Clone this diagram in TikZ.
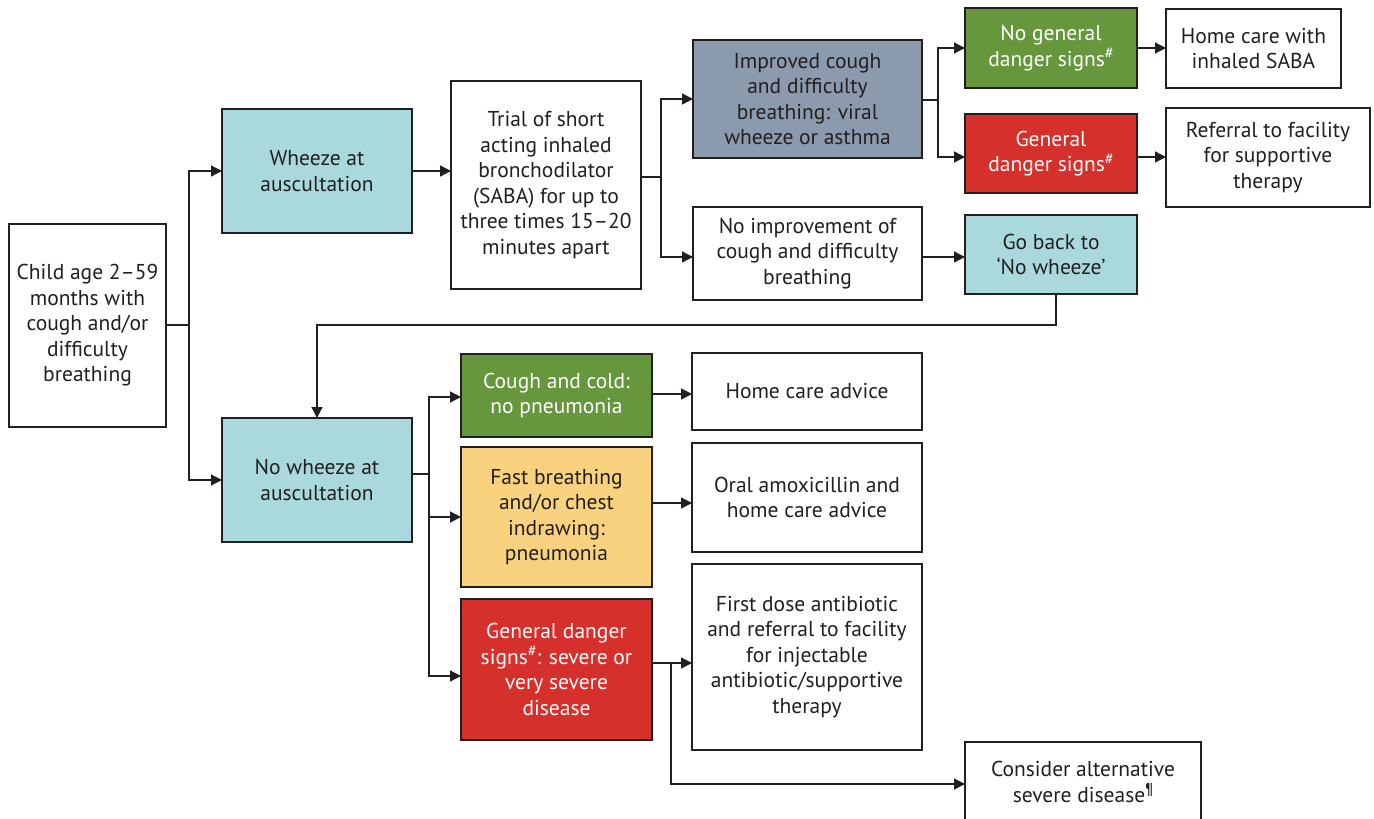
\documentclass[tikz,border=0pt]{standalone}
\usepackage{fontspec}
\setmainfont{PT Sans}
\usepackage{tikz}
\usetikzlibrary{arrows.meta}

\definecolor{cyanbox}{HTML}{AAD9DD}
\definecolor{slatebox}{HTML}{8C9AAE}
\definecolor{greenbox}{HTML}{67973D}
\definecolor{redbox}{HTML}{D6302D}
\definecolor{yellowbox}{HTML}{F9D27F}
\definecolor{inkgray}{HTML}{231F20}

\newcommand{\supmark}[1]{\raisebox{0.7ex}{\fontsize{16}{16}\selectfont #1}}

\begin{document}
\begin{tikzpicture}[x=1pt,y=-1pt,
  line cap=butt,
  line join=miter,
  every node/.style={font=\fontsize{21.5}{25.5}\selectfont,text=inkgray},
  box/.style={draw=inkgray,line width=1.3pt,fill=white,align=center,
    inner sep=0pt,outer sep=0pt},
  lightbox/.style={box,fill=#1,text=white},
  arr/.style={draw=inkgray,line width=1.3pt,-{Triangle[length=11pt,width=11pt]}},
  lin/.style={draw=inkgray,line width=1.3pt}]

  % 描画範囲
  \useasboundingbox (0,0) rectangle (1374,819);
  \clip (0,0) rectangle (1374,819);

  % 1列目
  \node[box,minimum width=157,minimum height=203] (child) at (87.5,325.5)
    {Child age 2--59\\months with\\cough and/or\\difficulty\\breathing};

  % 2列目
  \node[box,fill=cyanbox,minimum width=190,minimum height=124] (wheeze) at (317,171)
    {Wheeze at\\auscultation};
  \node[box,fill=cyanbox,minimum width=190,minimum height=124] (nowheeze) at (317,480)
    {No wheeze at\\auscultation};

  % 3列目
  \node[box,minimum width=190,minimum height=208] (trial) at (546,185)
    {Trial of short\\acting inhaled\\bronchodilator\\(SABA) for up to\\three times 15--20\\minutes apart};
  \node[lightbox=greenbox,minimum width=191,minimum height=83] (coughcold) at (556.5,395.5)
    {Cough and cold:\\no pneumonia};
  \node[box,fill=yellowbox,minimum width=191,minimum height=140] (fast) at (556.5,517)
    {Fast breathing\\and/or chest\\indrawing:\\pneumonia};
  \node[lightbox=redbox,minimum width=191,minimum height=141] (gendanger) at (556.5,669.5)
    {General danger\\signs\supmark{\#}: severe or\\very severe\\disease};

  % 4列目
  \node[box,fill=slatebox,minimum width=229,minimum height=118] (improved) at (807.5,99)
    {Improved cough\\and difficulty\\breathing: viral\\wheeze or asthma};
  \node[box,minimum width=229,minimum height=93] (noimp) at (807.5,253.5)
    {No improvement of\\cough and difficulty\\breathing};
  \node[box,minimum width=230,minimum height=77] (homecare) at (807,391.5)
    {Home care advice};
  \node[box,minimum width=230,minimum height=109] (oral) at (807,497.5)
    {Oral amoxicillin and\\home care advice};
  \node[box,minimum width=230,minimum height=186] (firstdose) at (807,657)
    {First dose antibiotic\\and referral to facility\\for injectable\\antibiotic/supportive\\therapy};

  % 5列目
  \node[lightbox=greenbox,minimum width=172,minimum height=80] (nogeneral) at (1051,48)
    {No general\\danger signs\supmark{\#}};
  \node[lightbox=redbox,minimum width=172,minimum height=79] (general) at (1051,153.5)
    {General\\danger signs\supmark{\#}};
  \node[box,fill=cyanbox,minimum width=172,minimum height=79] (goback) at (1051,254.5)
    {Go back to\\`No wheeze'};
  \node[box,minimum width=236,minimum height=80] (consider) at (1083,782)
    {Consider alternative\\severe disease\supmark{¶}};

  % 6列目
  \node[box,minimum width=175,minimum height=79] (homesaba) at (1253.5,48.5)
    {Home care with\\inhaled SABA};
  \node[box,minimum width=204,minimum height=99] (referral) at (1268,157.5)
    {Referral to facility\\for supportive\\therapy};

  % 分岐点
  \coordinate (j1) at (189,325);
  \coordinate (j2) at (661,177);
  \coordinate (j3) at (938,100);
  \coordinate (j4) at (429,474);
  \coordinate (j5) at (671,663);
  \coordinate (back) at (1056,325);

  % 接続線
  \draw[lin] (child.east |- j1) -- (j1);
  \draw[arr] (j1) |- (wheeze.west);
  \draw[arr] (j1) |- (nowheeze.west);

  \draw[arr] (wheeze.east) -- (wheeze.east -| trial.west);

  \draw[lin] (trial.east |- j2) -- (j2);
  \draw[arr] (j2) |- (improved.west);
  \draw[arr] (j2) |- (noimp.west |- 0,257);

  \draw[lin] (improved.east |- j3) -- (j3);
  \draw[arr] (j3) |- (nogeneral.west);
  \draw[arr] (j3) |- (general.west |- 0,157);

  \draw[arr] (nogeneral.east) -- (nogeneral.east -| homesaba.west);
  \draw[arr] (general.east |- 0,157) -- (referral.west |- 0,157);
  \draw[arr] (noimp.east |- 0,257) -- (goback.west |- 0,257);

  % 「No wheeze」へ戻る
  \draw[arr] (goback.south -| back) -- (back) -| (nowheeze.north);

  \draw[lin] (nowheeze.east |- j4) -- (j4);
  \draw[arr] (j4) |- (coughcold.west |- 0,397);
  \draw[arr] (j4) |- (fast.west);
  \draw[arr] (j4) |- (gendanger.west |- 0,676);

  \draw[arr] (coughcold.east |- 0,394) -- (homecare.west |- 0,394);
  \draw[arr] (fast.east |- 0,503) -- (oral.west |- 0,503);
  \draw[arr] (gendanger.east |- j5) -- (firstdose.west |- j5);
  \draw[arr] (j5) |- (consider.west |- 0,784);

\end{tikzpicture}
\end{document}
